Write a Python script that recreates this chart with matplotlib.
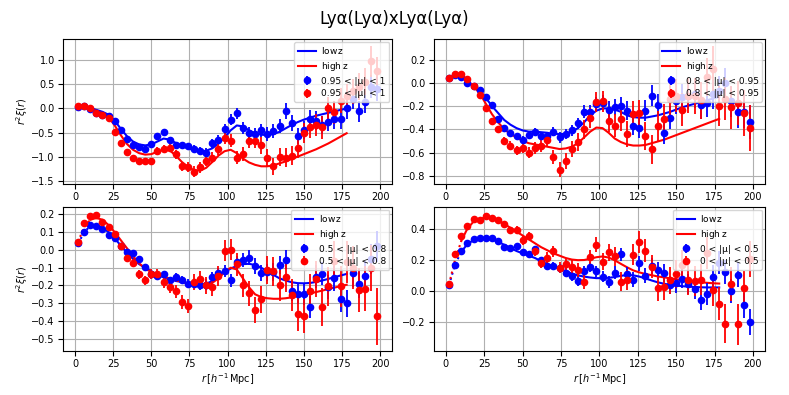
import matplotlib
matplotlib.use("Agg")
import matplotlib.pyplot as plt
import numpy as np

# bin centres for data and model
r_data = np.arange(2, 200, 4)
r_model = np.arange(2, 180, 4)
r_fitmin = 10

mu_labels = ["0.95 < |μ| < 1", "0.8 < |μ| < 0.95", "0.5 < |μ| < 0.8", "0 < |μ| < 0.5"]

# --- panel 1: 0.95 < |mu| < 1
low1 = [0.03, 0.05, -0.02, -0.10, -0.13, -0.15, -0.26, -0.44, -0.63, -0.75,
        -0.80, -0.84, -0.74, -0.57, -0.49, -0.64, -0.75, -0.76, -0.78, -0.83,
        -0.88, -0.91, -0.72, -0.64, -0.43, -0.23, -0.10, -0.40, -0.51, -0.53,
        -0.45, -0.53, -0.46, -0.36, -0.05, -0.30, -0.57, -0.44, -0.21, -0.25,
        -0.34, -0.27, -0.22, -0.21, 0.00, 0.20, -0.06, 0.13, 0.45, 0.40]
high1 = [0.04, 0.06, 0.00, -0.10, -0.14, -0.19, -0.48, -0.72, -0.89, -1.01,
         -1.09, -1.09, -1.09, -0.87, -0.84, -0.82, -0.94, -1.19, -1.21, -1.30,
         -1.21, -1.08, -1.01, -0.84, -0.61, -0.66, -1.01, -0.94, -0.66, -0.66,
         -0.76, -1.01, -1.19, -1.00, -1.01, -0.97, -0.82, -0.50, -0.39, -0.34,
         -0.39, 0.00, -0.08, 0.16, 0.25, 0.35, 0.45, 0.55, 0.97, 0.77]
low1_err = [0.02, 0.02, 0.02, 0.02, 0.03, 0.03, 0.03, 0.03, 0.04, 0.04,
            0.04, 0.05, 0.05, 0.05, 0.06, 0.06, 0.06, 0.07, 0.07, 0.08,
            0.08, 0.09, 0.09, 0.10, 0.10, 0.11, 0.11, 0.12, 0.12, 0.13,
            0.13, 0.14, 0.15, 0.15, 0.16, 0.17, 0.17, 0.18, 0.18, 0.19,
            0.19, 0.20, 0.20, 0.21, 0.21, 0.22, 0.22, 0.23, 0.23, 0.24]
high1_err = [0.03, 0.03, 0.03, 0.03, 0.04, 0.04, 0.04, 0.05, 0.05, 0.05,
             0.06, 0.06, 0.07, 0.07, 0.08, 0.08, 0.09, 0.09, 0.10, 0.12,
             0.11, 0.11, 0.12, 0.12, 0.13, 0.14, 0.14, 0.15, 0.15, 0.16,
             0.17, 0.17, 0.18, 0.18, 0.19, 0.20, 0.20, 0.21, 0.22, 0.22,
             0.23, 0.24, 0.24, 0.25, 0.26, 0.26, 0.27, 0.28, 0.32, 0.29]
low1_model = [0.03, 0.04, 0.01, -0.03, -0.07, -0.13, -0.25, -0.42, -0.57, -0.68,
              -0.74, -0.76, -0.74, -0.68, -0.62, -0.64, -0.71, -0.77, -0.82, -0.86,
              -0.88, -0.87, -0.82, -0.72, -0.60, -0.45, -0.35, -0.37, -0.45, -0.51,
              -0.54, -0.55, -0.53, -0.48, -0.41, -0.34, -0.28, -0.23, -0.19, -0.15,
              -0.12, -0.09, -0.06, -0.03, 0.00]
high1_model = [0.03, 0.04, 0.00, -0.05, -0.10, -0.18, -0.35, -0.55, -0.73, -0.85,
               -0.92, -0.95, -0.94, -0.89, -0.85, -0.86, -0.97, -1.10, -1.20, -1.27,
               -1.28, -1.22, -1.10, -0.97, -0.88, -0.85, -0.92, -1.03, -1.11, -1.16,
               -1.19, -1.19, -1.17, -1.13, -1.09, -1.04, -0.99, -0.94, -0.89, -0.84,
               -0.78, -0.72, -0.65, -0.58, -0.51]

# --- panel 2: 0.8 < |mu| < 0.95
low2 = [0.04, 0.07, 0.05, -0.005, -0.03, -0.065, -0.12, -0.19, -0.31, -0.39,
        -0.43, -0.46, -0.49, -0.45, -0.42, -0.46, -0.46, -0.42, -0.47, -0.44,
        -0.41, -0.35, -0.25, -0.25, -0.18, -0.17, -0.23, -0.21, -0.20, -0.24,
        -0.37, -0.39, -0.24, -0.11, -0.19, -0.43, -0.30, -0.16, -0.12, -0.115,
        -0.10, -0.19, -0.17, -0.10, -0.07, 0.00, -0.16, -0.25, -0.25, -0.34]
high2 = [0.04, 0.08, 0.08, 0.03, -0.03, -0.105, -0.22, -0.33, -0.40, -0.50,
         -0.54, -0.58, -0.56, -0.60, -0.56, -0.54, -0.49, -0.64, -0.75, -0.67,
         -0.57, -0.51, -0.40, -0.30, -0.165, -0.16, -0.33, -0.37, -0.31, -0.44,
         -0.27, -0.26, -0.46, -0.57, -0.375, -0.31, -0.14, -0.11, -0.23, -0.11,
         -0.11, -0.15, 0.05, 0.12, -0.20, -0.14, -0.21, -0.17, -0.26, -0.39]
low2_err = [0.01, 0.01, 0.01, 0.01, 0.015, 0.015, 0.02, 0.02, 0.02, 0.025,
            0.025, 0.03, 0.03, 0.03, 0.035, 0.035, 0.04, 0.04, 0.045, 0.045,
            0.05, 0.05, 0.055, 0.06, 0.06, 0.065, 0.07, 0.07, 0.075, 0.08,
            0.08, 0.085, 0.09, 0.09, 0.095, 0.10, 0.10, 0.105, 0.11, 0.11,
            0.115, 0.12, 0.12, 0.125, 0.13, 0.13, 0.135, 0.14, 0.14, 0.145]
high2_err = [0.01, 0.01, 0.015, 0.015, 0.02, 0.02, 0.025, 0.025, 0.03, 0.035,
             0.035, 0.04, 0.045, 0.045, 0.05, 0.055, 0.055, 0.06, 0.065, 0.07,
             0.07, 0.075, 0.08, 0.085, 0.09, 0.09, 0.095, 0.10, 0.105, 0.11,
             0.11, 0.115, 0.12, 0.125, 0.13, 0.13, 0.135, 0.14, 0.145, 0.15,
             0.155, 0.16, 0.165, 0.20, 0.175, 0.18, 0.185, 0.19, 0.195, 0.20]
low2_model = [0.04, 0.065, 0.05, 0.01, -0.03, -0.07, -0.13, -0.20, -0.26, -0.32,
              -0.36, -0.39, -0.41, -0.42, -0.42, -0.425, -0.43, -0.44, -0.44, -0.44,
              -0.42, -0.39, -0.34, -0.28, -0.24, -0.22, -0.22, -0.23, -0.25, -0.28,
              -0.295, -0.30, -0.30, -0.29, -0.28, -0.265, -0.25, -0.23, -0.21, -0.195,
              -0.18, -0.165, -0.15, -0.135, -0.12]
high2_model = [0.04, 0.075, 0.06, 0.02, -0.03, -0.09, -0.18, -0.27, -0.34, -0.40,
               -0.44, -0.47, -0.50, -0.52, -0.53, -0.54, -0.55, -0.56, -0.57, -0.565,
               -0.55, -0.52, -0.47, -0.42, -0.385, -0.39, -0.43, -0.48, -0.51, -0.53,
               -0.54, -0.54, -0.535, -0.52, -0.505, -0.49, -0.47, -0.45, -0.43, -0.41,
               -0.39, -0.37, -0.35, -0.33, -0.31]

# --- panel 3: 0.5 < |mu| < 0.8
low3 = [0.037, 0.10, 0.14, 0.135, 0.12, 0.084, 0.067, 0.02, -0.013, -0.02,
        -0.05, -0.095, -0.138, -0.144, -0.136, -0.17, -0.15, -0.17, -0.19, -0.19,
        -0.195, -0.195, -0.153, -0.132, -0.12, -0.17, -0.07, -0.056, -0.043, -0.09,
        -0.13, -0.125, -0.123, -0.086, -0.054, -0.23, -0.246, -0.25, -0.32, -0.15,
        -0.134, -0.21, -0.16, -0.275, -0.30, -0.13, -0.19, -0.144, -0.05, 0.02]
high3 = [0.045, 0.15, 0.19, 0.195, 0.155, 0.13, 0.09, 0.02, -0.045, -0.075,
         -0.138, -0.17, -0.138, -0.136, -0.18, -0.21, -0.233, -0.293, -0.315, -0.18,
         -0.162, -0.20, -0.21, -0.147, -0.004, 0.002, -0.08, -0.20, -0.243, -0.336,
         -0.278, -0.115, -0.12, -0.20, -0.15, -0.255, -0.36, -0.373, -0.233, -0.163,
         -0.32, -0.205, -0.06, -0.205, -0.07, -0.10, -0.227, -0.218, -0.10, -0.373]
low3_err = [0.005, 0.005, 0.005, 0.007, 0.008, 0.009, 0.01, 0.011, 0.012, 0.013,
            0.014, 0.015, 0.016, 0.018, 0.019, 0.02, 0.022, 0.023, 0.025, 0.026,
            0.028, 0.03, 0.031, 0.033, 0.035, 0.036, 0.038, 0.04, 0.042, 0.044,
            0.046, 0.048, 0.05, 0.052, 0.054, 0.056, 0.058, 0.06, 0.062, 0.064,
            0.066, 0.068, 0.07, 0.072, 0.075, 0.077, 0.08, 0.082, 0.085, 0.087]
high3_err = [0.008, 0.008, 0.009, 0.01, 0.012, 0.014, 0.016, 0.018, 0.02, 0.022,
             0.024, 0.026, 0.028, 0.03, 0.032, 0.034, 0.036, 0.038, 0.04, 0.043,
             0.046, 0.049, 0.052, 0.055, 0.058, 0.061, 0.064, 0.067, 0.07, 0.073,
             0.076, 0.079, 0.082, 0.085, 0.088, 0.091, 0.094, 0.097, 0.10, 0.103,
             0.106, 0.109, 0.112, 0.115, 0.118, 0.121, 0.124, 0.127, 0.13, 0.16]
low3_model = [0.035, 0.10, 0.135, 0.14, 0.125, 0.10, 0.065, 0.025, -0.015, -0.05,
              -0.08, -0.10, -0.12, -0.14, -0.155, -0.165, -0.175, -0.18, -0.19, -0.195,
              -0.195, -0.19, -0.175, -0.15, -0.125, -0.105, -0.09, -0.08, -0.078, -0.085,
              -0.10, -0.12, -0.14, -0.16, -0.172, -0.182, -0.187, -0.188, -0.186, -0.18,
              -0.172, -0.163, -0.153, -0.144, -0.135]
high3_model = [0.045, 0.13, 0.17, 0.18, 0.17, 0.14, 0.10, 0.055, 0.01, -0.035,
               -0.075, -0.105, -0.125, -0.14, -0.15, -0.16, -0.17, -0.18, -0.19, -0.20,
               -0.205, -0.20, -0.185, -0.16, -0.125, -0.10, -0.11, -0.16, -0.21, -0.25,
               -0.265, -0.272, -0.275, -0.275, -0.272, -0.267, -0.26, -0.253, -0.245, -0.237,
               -0.229, -0.22, -0.212, -0.204, -0.196]

# --- panel 4: 0 < |mu| < 0.5
low4 = [0.034, 0.168, 0.254, 0.307, 0.33, 0.34, 0.338, 0.338, 0.322, 0.28,
        0.275, 0.286, 0.25, 0.239, 0.267, 0.194, 0.16, 0.157, 0.146, 0.116,
        0.092, 0.062, 0.125, 0.15, 0.123, 0.09, 0.054, 0.116, 0.234, 0.105,
        0.071, 0.176, 0.097, 0.16, 0.131, 0.114, 0.034, 0.047, 0.077, 0.043,
        0.009, -0.058, -0.022, 0.09, 0.178, 0.118, -0.002, 0.103, -0.095, -0.206]
high4 = [0.043, 0.234, 0.35, 0.417, 0.46, 0.458, 0.482, 0.467, 0.454, 0.43,
         0.39, 0.393, 0.323, 0.353, 0.254, 0.18, 0.213, 0.254, 0.148, 0.17,
         0.155, 0.133, 0.056, 0.215, 0.297, 0.187, 0.247, 0.22, 0.058, 0.069,
         0.23, 0.316, 0.258, 0.155, 0.015, 0.024, 0.065, 0.108, 0.168, 0.069,
         0.06, 0.069, 0.243, 0.002, -0.084, -0.213, 0.043, -0.219, 0.015, 0.204]
low4_err = [0.005, 0.006, 0.007, 0.008, 0.009, 0.01, 0.011, 0.012, 0.013, 0.014,
            0.015, 0.016, 0.017, 0.018, 0.02, 0.021, 0.022, 0.024, 0.025, 0.027,
            0.028, 0.03, 0.031, 0.033, 0.035, 0.036, 0.038, 0.04, 0.042, 0.044,
            0.046, 0.048, 0.05, 0.052, 0.054, 0.056, 0.058, 0.06, 0.062, 0.064,
            0.066, 0.068, 0.07, 0.072, 0.074, 0.076, 0.078, 0.08, 0.082, 0.084]
high4_err = [0.008, 0.009, 0.01, 0.011, 0.012, 0.014, 0.015, 0.017, 0.018, 0.02,
             0.022, 0.024, 0.026, 0.028, 0.03, 0.032, 0.034, 0.036, 0.038, 0.04,
             0.042, 0.044, 0.046, 0.048, 0.05, 0.053, 0.056, 0.059, 0.062, 0.065,
             0.068, 0.071, 0.074, 0.077, 0.08, 0.083, 0.086, 0.089, 0.092, 0.095,
             0.098, 0.10, 0.102, 0.104, 0.106, 0.125, 0.11, 0.13, 0.114, 0.116]
low4_model = [0.034, 0.17, 0.25, 0.30, 0.325, 0.335, 0.335, 0.33, 0.315, 0.295,
              0.275, 0.255, 0.24, 0.225, 0.21, 0.19, 0.17, 0.155, 0.14, 0.125,
              0.11, 0.098, 0.09, 0.084, 0.08, 0.08, 0.082, 0.087, 0.095, 0.10,
              0.098, 0.09, 0.078, 0.065, 0.053, 0.044, 0.037, 0.032, 0.028, 0.025,
              0.023, 0.021, 0.02, 0.02, 0.02]
high4_model = [0.04, 0.20, 0.32, 0.40, 0.445, 0.465, 0.47, 0.465, 0.45, 0.43,
               0.405, 0.38, 0.355, 0.33, 0.305, 0.28, 0.26, 0.24, 0.225, 0.21,
               0.20, 0.196, 0.197, 0.205, 0.215, 0.22, 0.213, 0.195, 0.172, 0.15,
               0.13, 0.117, 0.107, 0.099, 0.091, 0.085, 0.079, 0.073, 0.067, 0.062,
               0.057, 0.053, 0.05, 0.047, 0.045]

panels = [
    (low1, low1_err, low1_model, high1, high1_err, high1_model),
    (low2, low2_err, low2_model, high2, high2_err, high2_model),
    (low3, low3_err, low3_model, high3, high3_err, high3_model),
    (low4, low4_err, low4_model, high4, high4_err, high4_model),
]
ytick_steps = [0.5, 0.2, 0.1, 0.2]

fig = plt.figure(figsize=(7.89, 3.95), dpi=100)
fig.suptitle("Lyα(Lyα)xLyα(Lyα)", fontsize=12, y=0.975)

boxes = [
    [0.080, 0.534, 0.417, 0.367],
    [0.550, 0.534, 0.4195, 0.367],
    [0.080, 0.111, 0.417, 0.365],
    [0.550, 0.111, 0.4195, 0.365],
]

solid = r_model >= r_fitmin
dotted = r_model <= r_fitmin

for i, (box, data, mu) in enumerate(zip(boxes, panels, mu_labels)):
    lo, lo_err, lo_mod, hi, hi_err, hi_mod = data
    lo_mod = np.array(lo_mod)
    hi_mod = np.array(hi_mod)
    ax = fig.add_axes(box)
    ax.grid(True)
    ax.set_axisbelow(True)

    ax.plot(r_model[solid], lo_mod[solid], color="blue", lw=1.5, label=r"$\rm low\,z$")
    ax.plot(r_model[solid], hi_mod[solid], color="red", lw=1.5, label=r"$\rm high\,z$")
    ax.plot(r_model[dotted], lo_mod[dotted], color="blue", lw=1.5, ls=":")
    ax.plot(r_model[dotted], hi_mod[dotted], color="red", lw=1.5, ls=":")

    ax.errorbar(r_data, lo, yerr=lo_err, fmt="o", color="blue", ms=4.5,
                elinewidth=1.3, label=mu)
    ax.errorbar(r_data, hi, yerr=hi_err, fmt="o", color="red", ms=4.5,
                elinewidth=1.3, label=mu)

    ax.yaxis.set_major_locator(plt.MultipleLocator(ytick_steps[i]))
    ax.set_xticks([0, 25, 50, 75, 100, 125, 150, 175, 200])
    ax.tick_params(labelsize=7, pad=2.5)
    if i % 2 == 0:
        ax.set_ylabel(r"$r^2\xi(r)$", fontsize=7, labelpad=1)
    if i >= 2:
        ax.set_xlabel(r"$r\,[h^{-1}\,\mathrm{Mpc}]$", fontsize=7, labelpad=1)
    ax.legend(loc="upper right", fontsize=6.5, borderaxespad=0.3,
              labelspacing=0.4, handletextpad=0.6)

fig.savefig("out.png", dpi=100)
plt.close(fig)
